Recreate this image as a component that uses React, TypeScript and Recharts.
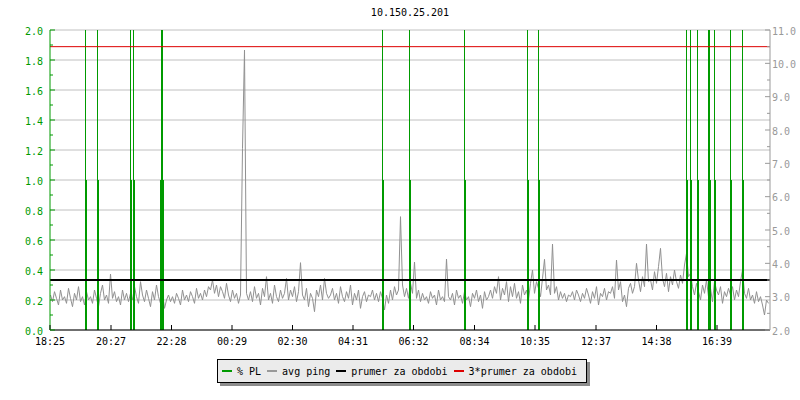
import React from 'react';
import { ComposedChart, Line, XAxis, YAxis, CartesianGrid, Legend } from 'recharts';

const FONT = '"DejaVu Sans Mono", "Liberation Mono", monospace';
const GREEN = '#009a00';
const GRAY = '#999999';
const RED = '#dd0000';

const title = '10.150.25.201';

// minutes since 18:25
const timeTicks = [0, 122, 243, 364, 485, 606, 727, 849, 970, 1092, 1213, 1334];
const timeLabels = ['18:25', '20:27', '22:28', '00:29', '02:30', '04:31', '06:32', '08:34', '10:35', '12:37', '14:38', '16:39'];

const plTicks = [0, 0.1, 0.2, 0.3, 0.4, 0.5, 0.6, 0.7, 0.8, 0.9, 1.0, 1.1, 1.2, 1.3, 1.4, 1.5, 1.6, 1.7, 1.8, 1.9, 2.0];
const plGrid = [0, 0.2, 0.4, 0.6, 0.8, 1.0, 1.2, 1.4, 1.6, 1.8, 2.0];
const pingTicks = [2, 2.5, 3, 3.5, 4, 4.5, 5, 5.5, 6, 6.5, 7, 7.5, 8, 8.5, 9, 9.5, 10, 10.5, 11];

// avg ping (ms), one sample every 4 minutes
const pingStart = 1;
const pingStep = 4;
const avgPing = [
  3.05, 2.85, 3.15, 2.95, 2.75, 3.2, 2.9, 3.0, 2.8, 3.25, 2.95, 2.7, 3.1, 2.9, 3.3, 2.85, 3.0, 2.75, 3.15, 2.9,
  3.0, 2.8, 3.2, 2.95, 2.7, 3.1, 3.35, 2.9, 3.05, 2.8, 3.68, 2.95, 3.15, 2.85, 3.0, 2.75, 3.2, 2.9, 3.1, 2.85,
  3.1, 2.9, 3.3, 3.0, 2.8, 3.45, 3.05, 2.85, 3.2, 2.95, 2.7, 3.15, 2.9, 3.35, 3.0, 2.8, 3.1, 2.65, 2.9, 3.05,
  2.85, 3.0, 2.8, 3.1, 2.95, 2.75, 3.2, 2.9, 3.05, 2.85, 3.15, 3.0, 2.8, 3.25, 2.95, 3.1, 2.9, 3.2, 3.0, 3.3,
  3.2, 3.5, 3.1, 3.35, 3.0, 3.3, 3.15, 2.95, 3.4, 3.05, 2.85, 3.2, 2.95, 3.1, 2.8, 3.05, 7.45, 10.4, 3.1, 2.9,
  3.15, 2.85, 3.3, 2.95, 3.1, 2.75, 3.25, 3.0, 3.6, 2.9, 3.1, 2.8, 3.35, 3.0, 2.85, 3.2, 2.95, 3.1, 3.55, 2.9,
  3.2, 3.0, 3.3, 2.85, 3.15, 4.02, 3.05, 2.9, 3.25, 2.7, 3.1, 2.95, 2.55, 3.2, 3.0, 3.35, 2.9, 3.55, 3.1, 2.95,
  3.05, 3.25, 2.9, 3.1, 2.8, 3.3, 3.0, 2.85, 3.15, 2.95, 3.35, 2.75, 3.1, 2.9, 3.2, 2.65, 3.0, 3.15, 2.85, 3.05,
  3.0, 3.2, 2.9, 3.1, 2.85, 3.15, 2.95, 2.6, 3.05, 2.8, 3.2, 2.9, 3.3, 3.05, 3.2, 5.4, 3.35, 3.0, 3.25, 2.95,
  3.4, 3.1, 4.04, 2.95, 3.2, 2.85, 3.1, 2.9, 3.0, 2.8, 3.15, 2.95, 3.05, 2.75, 3.2, 2.9, 3.0, 2.85, 4.13, 3.0,
  2.9, 3.1, 2.75, 3.2, 2.95, 3.05, 2.8, 3.15, 2.9, 3.0, 2.7, 3.1, 2.95, 3.2, 2.85, 3.05, 2.65, 3.15, 2.9, 3.0,
  3.2, 2.95, 3.3, 3.1, 3.6, 2.9, 3.25, 3.05, 3.45, 2.85, 3.3, 3.0, 3.4, 2.95, 3.15, 2.8, 3.35, 3.05, 3.2, 2.9,
  3.4, 3.8, 3.1, 3.45, 3.25, 3.0, 3.55, 4.12, 3.2, 3.35, 3.05, 4.58, 3.1, 3.3, 2.9, 3.15, 2.95, 3.1, 2.85, 3.05,
  3.0, 3.15, 2.9, 3.2, 3.05, 2.85, 3.1, 2.95, 3.25, 3.05, 2.8, 3.15, 2.95, 3.3, 2.75, 3.1, 3.0, 3.25, 2.9, 3.15,
  3.1, 3.3, 2.95, 4.1, 3.2, 3.45, 2.85, 3.05, 2.7, 3.25, 3.4, 3.1, 3.3, 4.0, 3.5, 3.15, 3.6, 3.3, 4.58, 3.45,
  3.5, 3.2, 3.75, 3.4, 3.9, 4.45, 3.55, 3.3, 3.7, 3.15, 3.6, 3.35, 3.8, 3.45, 3.25, 3.65, 3.4, 3.95, 4.3, 3.6,
  3.7, 3.3, 3.05, 3.4, 3.15, 2.9, 3.35, 3.1, 3.5, 3.0, 3.25, 2.85, 3.45, 3.2, 3.05, 3.3, 2.8, 3.15, 3.0, 3.25,
  3.05, 3.3, 2.9, 3.2, 3.0, 3.45, 3.8, 3.1, 2.95, 3.25, 2.9, 3.05, 2.8, 3.15, 2.85, 3.0, 2.75, 2.45, 2.9, 2.8,
];

// packet loss samples [minute, % PL]; values above 2 run off the top
const plSamples: [number, number][] = [
  [71, 3], [73, 1],
  [95, 3], [97, 1],
  [161, 3], [163, 1],
  [167, 3], [169, 1],
  [221, 1], [223, 3], [225, 3], [227, 1],
  [665, 3], [667, 1],
  [719, 3], [721, 1],
  [829, 3], [831, 1],
  [955, 3], [957, 1],
  [977, 3], [979, 1],
  [1273, 3], [1275, 1],
  [1281, 3], [1283, 1],
  [1295, 3], [1297, 1],
  [1317, 3], [1319, 3], [1321, 1],
  [1329, 3], [1331, 1],
  [1361, 3], [1363, 1],
  [1385, 3], [1387, 1],
];

const prumer = 3.5;
const prumer3 = 10.5;
const spanMinutes = 1440;

const legendItems = [
  { label: '% PL', color: GREEN },
  { label: 'avg ping', color: GRAY },
  { label: 'prumer za obdobi', color: '#000000' },
  { label: '3*prumer za obdobi', color: RED },
];

const pingData = avgPing.map((v, i) => ({ t: pingStart + i * pingStep, v }));
const plData = plSamples.flatMap(([t, v]) => [
  { t, v: 0 },
  { t, v },
  { t, v: null },
]);
const avgData = [{ t: 0, v: prumer }, { t: spanMinutes, v: prumer }];
const avg3Data = [{ t: 0, v: prumer3 }, { t: spanMinutes, v: prumer3 }];

const LeftTick = (props: any) => {
  const { x, y, payload } = props;
  const major = Math.round(payload.value * 10) % 2 === 0;
  const ax = x + 7;
  return (
    <g>
      <line x1={ax} y1={y} x2={ax + (major ? 5 : 3)} y2={y} stroke={GREEN} />
      {major && (
        <text x={x} y={y + 4.5} textAnchor="end" fill={GREEN} fontSize={10} fontFamily={FONT}>
          {payload.value.toFixed(1)}
        </text>
      )}
    </g>
  );
};

const RightTick = (props: any) => {
  const { x, y, payload } = props;
  const major = Number.isInteger(payload.value);
  const ax = x - 2;
  return (
    <g>
      <line x1={ax} y1={y} x2={ax - (major ? 5 : 3)} y2={y} stroke={GRAY} />
      {major && (
        <text x={x} y={y + 4.5} textAnchor="start" fill={GRAY} fontSize={10} fontFamily={FONT}>
          {payload.value.toFixed(1)}
        </text>
      )}
    </g>
  );
};

const TimeTick = (props: any) => {
  const { x, y, index } = props;
  return (
    <g>
      <line x1={x} y1={y} x2={x} y2={y - 5} stroke="#000" />
      <text x={x} y={y + 15} textAnchor="middle" fill="#000" fontSize={10} fontFamily={FONT}>
        {timeLabels[index]}
      </text>
    </g>
  );
};

const LegendBox = () => (
  <div
    style={{
      display: 'flex',
      alignItems: 'center',
      height: 22,
      padding: '0 9px 0 4px',
      border: '1px solid #000',
      background: '#ebebeb',
      boxShadow: '3px 3px 0 #8c8c8c',
      fontFamily: FONT,
      fontSize: 10,
      color: '#000',
      whiteSpace: 'pre',
    }}
  >
    {legendItems.map((it, i) => (
      <span key={it.label} style={{ display: 'flex', alignItems: 'center', marginRight: i < legendItems.length - 1 ? 6 : 0 }}>
        <span style={{ display: 'inline-block', width: 10, height: 2, background: it.color, marginRight: 5 }} />
        <span>{it.label}</span>
      </span>
    ))}
  </div>
);

export default function App() {
  return (
    <div style={{ position: 'fixed', left: 0, top: 0, width: 800, height: 400, background: '#fff' }}>
      <div
        style={{
          position: 'absolute',
          left: 50,
          top: 7,
          width: 720,
          textAlign: 'center',
          fontFamily: FONT,
          fontSize: 10,
          lineHeight: '12px',
          color: '#000',
        }}
      >
        {title}
      </div>
      <ComposedChart width={800} height={400} margin={{ top: 30, right: 0, bottom: 40, left: 0 }}>
        <CartesianGrid yAxisId="left" vertical={false} horizontalValues={plGrid} stroke="#c0c0c0" />
        <XAxis
          type="number"
          dataKey="t"
          domain={[0, spanMinutes]}
          ticks={timeTicks}
          interval={0}
          height={30}
          tickSize={0}
          tickMargin={0}
          tickLine={false}
          axisLine={{ stroke: '#000' }}
          tick={(p: any) => <TimeTick {...p} />}
        />
        <YAxis
          yAxisId="left"
          orientation="left"
          domain={[0, 2]}
          ticks={plTicks}
          interval={0}
          allowDataOverflow
          width={50}
          tickSize={5}
          tickMargin={2}
          tickLine={false}
          axisLine={{ stroke: GREEN }}
          tick={(p: any) => <LeftTick {...p} />}
        />
        <YAxis
          yAxisId="right"
          orientation="right"
          domain={[2, 11]}
          ticks={pingTicks}
          interval={0}
          allowDataOverflow
          width={30}
          tickSize={0}
          tickMargin={2}
          tickLine={false}
          axisLine={{ stroke: GRAY }}
          tick={(p: any) => <RightTick {...p} />}
        />
        <Line
          yAxisId="right"
          data={pingData}
          dataKey="v"
          stroke="#919191"
          strokeWidth={1}
          dot={false}
          isAnimationActive={false}
          type="linear"
        />
        <Line
          yAxisId="left"
          data={plData}
          dataKey="v"
          stroke={GREEN}
          strokeWidth={1}
          dot={false}
          isAnimationActive={false}
          connectNulls={false}
          type="linear"
        />
        <Line
          yAxisId="right"
          data={avgData}
          dataKey="v"
          stroke="#000"
          strokeWidth={2}
          dot={false}
          isAnimationActive={false}
          type="linear"
        />
        <Line
          yAxisId="right"
          data={avg3Data}
          dataKey="v"
          stroke={RED}
          strokeWidth={1}
          dot={false}
          isAnimationActive={false}
          type="linear"
        />
        <Legend
          verticalAlign="middle"
          align="center"
          layout="horizontal"
          content={() => <LegendBox />}
          wrapperStyle={{ left: 217, top: 359, width: 'auto', height: 'auto' }}
        />
      </ComposedChart>
    </div>
  );
}
